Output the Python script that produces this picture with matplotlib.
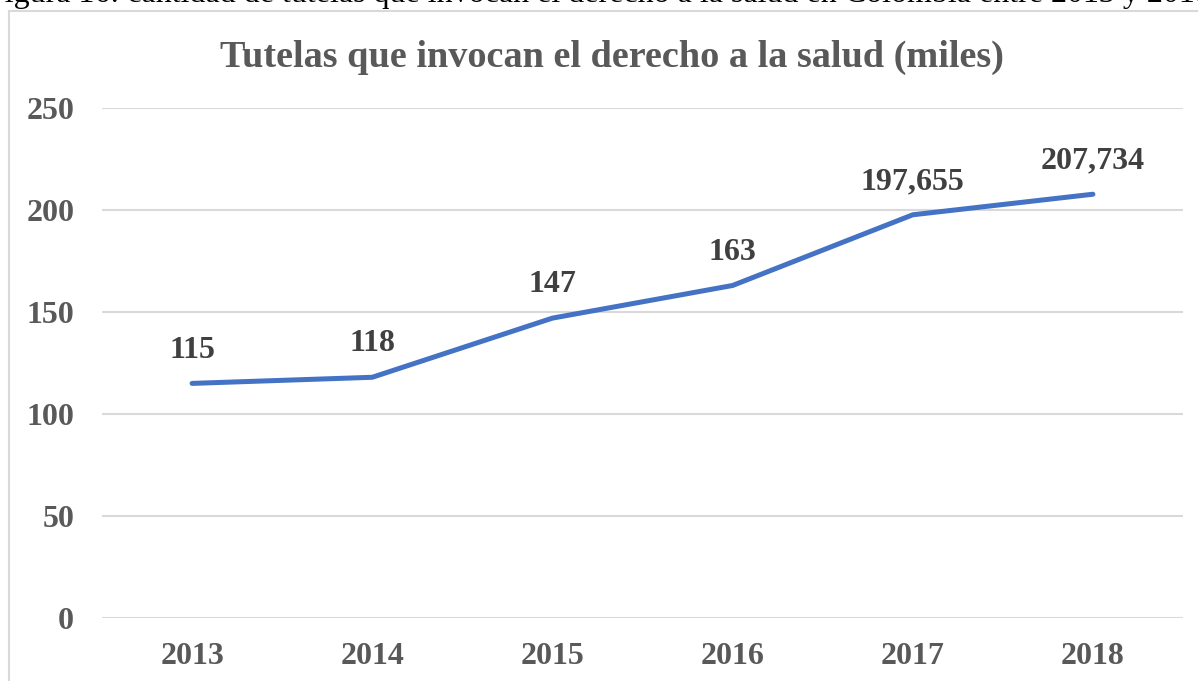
import matplotlib.pyplot as plt
from matplotlib.patches import Rectangle

years = ["2013", "2014", "2015", "2016", "2017", "2018"]
tutelas = [115, 118, 147, 163, 197.655, 207.734]
value_labels = ["115", "118", "147", "163", "197,655", "207,734"]
yticks = [0, 50, 100, 150, 200, 250]

plt.rcParams["font.family"] = ["Liberation Serif", "DejaVu Serif"]

fig = plt.figure(figsize=(11.98, 6.81), dpi=100)
W, H = 1198, 681

# caption cut off at the top of the page crop
fig.text(0.5, 1 - 2 / H, "Figura 16: cantidad de tutelas que invocan el derecho a la salud en Colombia entre 2013 y 2018",
         ha="center", va="baseline", fontsize=23, color="black")

# chart frame
fig.patches.append(Rectangle((9 / W, -0.1), 1.2, 1 - 11 / H + 0.1, transform=fig.transFigure,
                             fill=False, edgecolor="#D9D9D9", linewidth=1.5))

ax = fig.add_axes([102 / W, 63 / H, (1183 - 102) / W, (573 - 63) / H])
x = range(len(years))
ax.plot(x, tutelas, color="#4472C4", linewidth=3.6, solid_capstyle="round", zorder=3)
for xi, v, lab in zip(x, tutelas, value_labels):
    ax.annotate(lab, (xi, v), xytext=(0, 24), textcoords="offset points", ha="center", va="center",
                fontsize=23, fontweight="bold", color="#404040")

ax.set_xlim(-0.5, 5.5)
ax.set_ylim(0, 250)
ax.set_yticks(yticks)
ax.set_xticks(list(x))
ax.set_xticklabels(years)
ax.yaxis.grid(True, color="#D9D9D9", linewidth=1.5)
ax.set_axisbelow(True)
for s in ax.spines.values():
    s.set_visible(False)
ax.tick_params(length=0, labelsize=23, labelcolor="#595959")
ax.tick_params(axis="y", pad=20)
ax.tick_params(axis="x", pad=17)
for t in ax.get_xticklabels() + ax.get_yticklabels():
    t.set_fontweight("bold")

fig.text((222 + 1002) / 2 / W, 1 - 57 / H, "Tutelas que invocan el derecho a la salud (miles)",
         ha="center", va="center", fontsize=27.5, fontweight="bold", color="#595959")

fig.savefig("out.png", dpi=100)
